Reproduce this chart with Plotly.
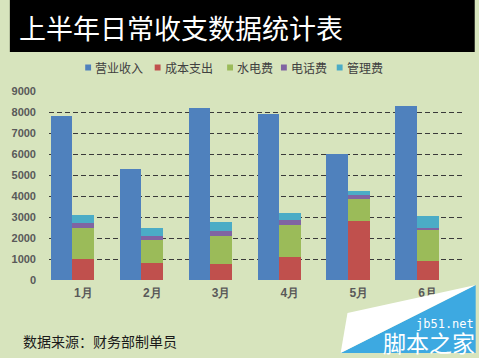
import plotly.graph_objects as go

months = ["1月", "2月", "3月", "4月", "5月", "6月"]
revenue = [7800, 5300, 8200, 7900, 6000, 8300]      # 营业收入
cost = [1000, 800, 750, 1100, 2800, 900]            # 成本支出
utility = [1500, 1100, 1350, 1500, 1050, 1500]      # 水电费
phone = [200, 200, 250, 250, 200, 100]              # 电话费
mgmt = [400, 400, 400, 350, 200, 550]               # 管理费
y_ticks = [0, 1000, 2000, 3000, 4000, 5000, 6000, 7000, 8000, 9000]

W, H = 479, 358
L, R, T, B = 40, 462, 91, 280
BG = "#D7E4BD"
COLORS = {"营业收入": "#4F81BD", "成本支出": "#C0504D", "水电费": "#9BBB59",
          "电话费": "#8064A2", "管理费": "#4BACC6"}

idx = list(range(len(months)))
BLUE_W, STACK_W = 0.31, 0.32
blue_x = [i - (BLUE_W + STACK_W) / 2 for i in idx]


def px(x):
    return (x - L) / (R - L)


def py(y):
    return (B - y) / (B - T)


fig = go.Figure()
fig.add_trace(go.Bar(x=blue_x, y=revenue, name="营业收入",
                     marker=dict(color=COLORS["营业收入"], line=dict(width=0)),
                     width=BLUE_W, showlegend=False))
for name, vals in [("成本支出", cost), ("水电费", utility), ("电话费", phone), ("管理费", mgmt)]:
    fig.add_trace(go.Bar(x=idx, y=vals, name=name,
                         marker=dict(color=COLORS[name], line=dict(width=0)),
                         width=STACK_W, showlegend=False))

shapes = []
annotations = []
# title bar
shapes.append(dict(type="rect", xref="paper", yref="paper", x0=px(0), x1=px(475), y0=py(52), y1=py(0),
                   fillcolor="#000000", line=dict(width=0), layer="below"))
annotations.append(dict(xref="paper", yref="paper", x=px(7), y=py(27), xanchor="left", yanchor="middle",
                        text="上半年日常收支数据统计表", showarrow=False,
                        font=dict(family="Noto Sans CJK SC", size=27, color="#FFFFFF")))
# legend
legend_pos = [("营业收入", 77), ("成本支出", 148), ("水电费", 222), ("电话费", 277), ("管理费", 334)]
for name, x0 in legend_pos:
    shapes.append(dict(type="rect", xref="paper", yref="paper", x0=px(x0), x1=px(x0 + 6),
                       y0=py(70.5), y1=py(64.5), fillcolor=COLORS[name], line=dict(width=0)))
    annotations.append(dict(xref="paper", yref="paper", x=px(x0 + 8), y=py(67.5), xanchor="left",
                            yanchor="middle", text=name, showarrow=False,
                            font=dict(family="Noto Sans CJK SC", size=12, color="#404040")))
# source note
annotations.append(dict(xref="paper", yref="paper", x=px(11), y=py(341), xanchor="left", yanchor="middle",
                        text="数据来源：财务部制单员", showarrow=False,
                        font=dict(family="Noto Sans CJK SC", size=14, color="#1A1A1A")))
# watermark
shapes.append(dict(type="path", xref="paper", yref="paper",
                   path=f"M {px(476)},{py(285)} L {px(476)},{py(353)} L {px(338)},{py(353)} Z",
                   fillcolor="#3DA9E1", line=dict(width=0)))
shapes.append(dict(type="path", xref="paper", yref="paper",
                   path=f"M {px(345)},{py(313)} L {px(476)},{py(285)} L {px(338)},{py(353)} Z",
                   fillcolor="#FFFFFF", line=dict(width=0)))
annotations.append(dict(xref="paper", yref="paper", x=px(476), y=py(324), xanchor="right", yanchor="middle",
                        text="jb51.net", showarrow=False,
                        font=dict(family="DejaVu Sans Mono", size=12, color="#FFFFFF")))
annotations.append(dict(xref="paper", yref="paper", x=px(477), y=py(342), xanchor="right", yanchor="middle",
                        text="脚本之家", showarrow=False,
                        font=dict(family="Noto Sans CJK SC", size=23, color="#FFFFFF")))

fig.update_layout(
    width=W, height=H,
    margin=dict(l=L, r=W - R, t=T, b=H - B, pad=0),
    paper_bgcolor=BG, plot_bgcolor=BG,
    barmode="stack",
    showlegend=False,
    shapes=shapes,
    annotations=annotations,
    xaxis=dict(range=[-0.5, len(months) - 0.5], tickvals=idx, ticktext=months,
               showgrid=False, zeroline=False, showline=False, ticks="",
               tickfont=dict(family="Liberation Sans", size=12, color="#595959", weight="bold"),
               ticklabelstandoff=4),
    yaxis=dict(range=[0, 9000], tickvals=y_ticks, showgrid=True, gridcolor="#3A3A3A", gridwidth=1,
               griddash="5px,3px", zeroline=False, showline=False, ticks="",
               tickfont=dict(family="Liberation Sans Narrow, Liberation Sans", size=11, color="#595959",
                             weight="bold"),
               ticklabelstandoff=12),
)

fig.write_html("out.html", config={"displayModeBar": False},
               post_script="document.body.style.margin='0';document.body.style.overflow='hidden';")
